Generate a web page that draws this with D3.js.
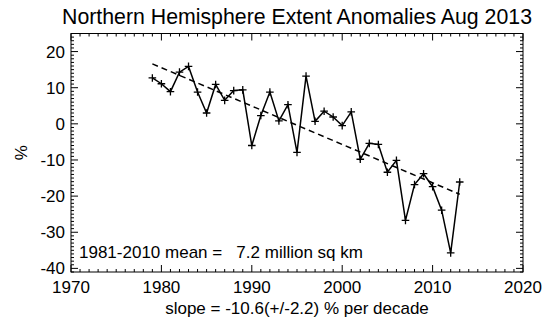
<!DOCTYPE html>
<html>
<head>
<meta charset="utf-8">
<script src="https://cdn.jsdelivr.net/npm/d3@7"></script>
<style>
  html, body { margin: 0; padding: 0; background: #fff; }
  svg { display: block; }
  text { font-family: "Liberation Sans", Arial, Helvetica, sans-serif; fill: #000; }
</style>
</head>
<body>
<svg id="chart" width="550" height="334"></svg>
<script>
// ---- data ----
const years = [1979,1980,1981,1982,1983,1984,1985,1986,1987,1988,1989,1990,1991,1992,1993,1994,1995,1996,1997,1998,1999,2000,2001,2002,2003,2004,2005,2006,2007,2008,2009,2010,2011,2012,2013];
const anomalies = [12.7,11.1,8.9,14.3,15.9,8.8,3.0,10.9,6.5,9.2,9.4,-6.0,2.3,8.8,0.8,5.3,-7.9,13.2,0.7,3.5,1.9,-0.5,3.3,-9.8,-5.4,-5.7,-13.4,-10.1,-26.7,-16.8,-13.8,-17.4,-23.9,-35.7,-16.1];
const trendYears = [1979, 2013];
const trendValues = [16.6, -19.5];
const xTicks = [1970,1980,1990,2000,2010,2020];
const yTicks = [-40,-30,-20,-10,0,10,20];
const titleText = "Northern Hemisphere Extent Anomalies Aug 2013";
const meanText = "1981-2010 mean =   7.2 million sq km";
const slopeText = "slope = -10.6(+/-2.2) % per decade";
const yLabel = "%";

// ---- layout ----
const svg = d3.select("#chart");
const L = 71, R = 523, T = 33.5, B = 272;
const x = d3.scaleLinear().domain([1970, 2020]).range([L, R]);
const y = d3.scaleLinear().domain([-41, 25]).range([B, T]);

// frame
svg.append("rect").attr("x", L).attr("y", T).attr("width", R - L).attr("height", B - T)
  .attr("fill", "none").attr("stroke", "#000").attr("stroke-width", 1);

// minor ticks
const xMinor = d3.range(1970, 2021, 1);
const yMinor = d3.range(-41, 26, 1);
const tickG = svg.append("g").attr("stroke", "#000").attr("stroke-width", 1);
xMinor.forEach(v => {
  const major = xTicks.includes(v);
  const len = major ? 7 : 3;
  tickG.append("line").attr("x1", x(v)).attr("x2", x(v)).attr("y1", B).attr("y2", B - len);
  tickG.append("line").attr("x1", x(v)).attr("x2", x(v)).attr("y1", T).attr("y2", T + len);
});
yMinor.forEach(v => {
  const major = yTicks.includes(v);
  const len = major ? 7 : 3;
  tickG.append("line").attr("y1", y(v)).attr("y2", y(v)).attr("x1", L).attr("x2", L + len);
  tickG.append("line").attr("y1", y(v)).attr("y2", y(v)).attr("x1", R).attr("x2", R - len);
});

// tick labels
svg.append("g").selectAll("text").data(xTicks).join("text")
  .attr("x", d => x(d)).attr("y", 293).attr("text-anchor", "middle")
  .attr("font-size", 17).text(d => d);
svg.append("g").selectAll("text").data(yTicks).join("text")
  .attr("x", 65).attr("y", d => y(d) + 6).attr("text-anchor", "end")
  .attr("font-size", 17).text(d => d);

// title & labels
svg.append("text").attr("x", (L + R) / 2).attr("y", 24).attr("text-anchor", "middle")
  .attr("font-size", 21.3).text(titleText);
svg.append("text").attr("x", (L + R) / 2).attr("y", 314).attr("text-anchor", "middle")
  .attr("font-size", 17).text(slopeText);
svg.append("text").attr("transform", `translate(27,${(T + B) / 2}) rotate(-90)`)
  .attr("text-anchor", "middle").attr("font-size", 17).text(yLabel);
svg.append("text").attr("x", 79).attr("y", 258).attr("font-size", 17)
  .attr("xml:space", "preserve").style("white-space", "pre").text(meanText);

// trend line
const pts = years.map((yr, i) => [yr, anomalies[i]]);
const line = d3.line().x(d => x(d[0])).y(d => y(d[1]));
svg.append("path").datum(trendYears.map((yr, i) => [yr, trendValues[i]]))
  .attr("d", line).attr("fill", "none").attr("stroke", "#000")
  .attr("stroke-width", 1.5).attr("stroke-dasharray", "6,4");

// data line
svg.append("path").datum(pts).attr("d", line).attr("fill", "none")
  .attr("stroke", "#000").attr("stroke-width", 1.5).attr("stroke-linejoin", "miter");

// plus markers
const s = 3.8;
svg.append("g").selectAll("path").data(pts).join("path")
  .attr("d", d => `M${x(d[0]) - s},${y(d[1])}H${x(d[0]) + s}M${x(d[0])},${y(d[1]) - s}V${y(d[1]) + s}`)
  .attr("stroke", "#000").attr("stroke-width", 1.3).attr("fill", "none");
</script>
</body>
</html>
